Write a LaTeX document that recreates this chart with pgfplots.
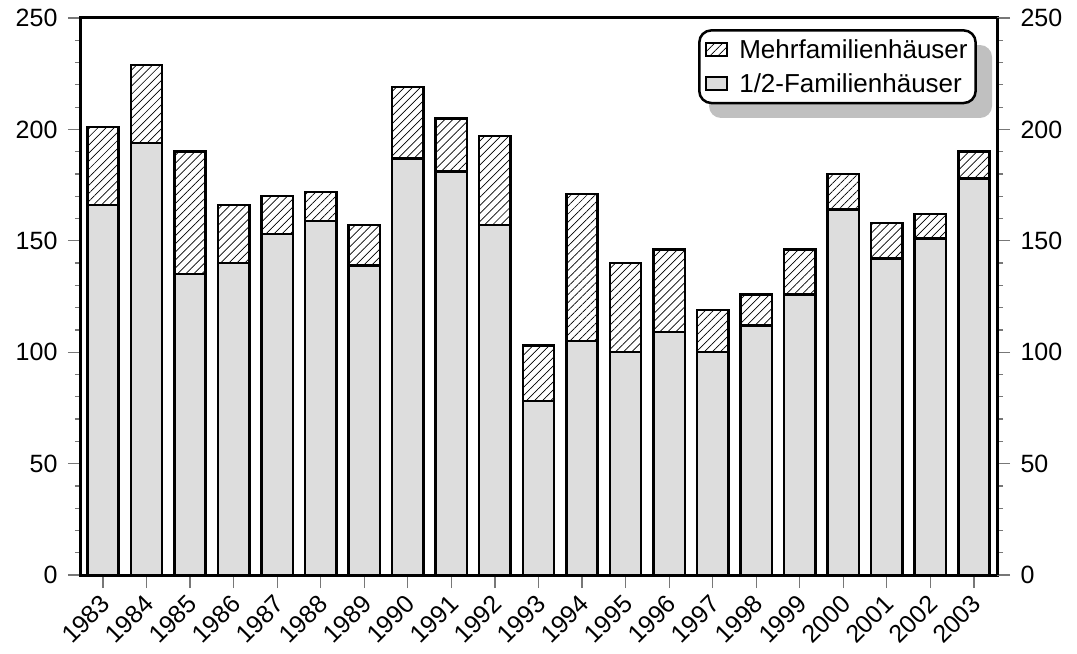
\documentclass[border=0pt]{standalone}
\usepackage{pgfplots}
\pgfplotsset{compat=1.18}
\usepackage{pgfplotstable}
\usepackage{fontspec}
\setmainfont{Liberation Sans}
\usetikzlibrary{patterns.meta}
\definecolor{barfill}{HTML}{DDDDDD}
\definecolor{shadowgray}{HTML}{C0C0C0}
\definecolor{tickgray}{HTML}{777777}

\pgfplotstableread{
x ein mehr
0 166 35
1 194 35
2 135 55
3 140 26
4 153 17
5 159 13
6 139 18
7 187 32
8 181 24
9 157 40
10 78 25
11 105 66
12 100 40
13 109 37
14 100 19
15 112 14
16 126 20
17 164 16
18 142 16
19 151 11
20 178 12
}\data

\newcommand{\tickfont}{\fontsize{25bp}{30bp}\selectfont}
\pgfplotsset{
  common/.style={
    width=916bp, height=557bp, scale only axis,
    xmin=-0.505, xmax=20.53, ymin=0, ymax=250,
    ytick={0,50,...,250}, minor y tick num=4,
    tick align=outside,
    major tick length=13bp, minor tick length=6bp,
    every tick/.style={tickgray, line width=1.2bp},
    /pgf/number format/assume math mode=true,
    axis line style={line width=3bp},
  }
}

\begin{document}
\begin{tikzpicture}
\begin{axis}[common,
  ybar stacked, bar width=0.72,
  xtick={0,...,20},
  xticklabels={1983,1984,1985,1986,1987,1988,1989,1990,1991,1992,1993,1994,1995,1996,1997,1998,1999,2000,2001,2002,2003},
  xtick pos=bottom, ytick pos=left,
  xticklabel style={font=\tickfont, xshift=5bp, yshift=-9bp, rotate=45, anchor=east},
  yticklabel style={font=\tickfont, xshift=-7bp},
  reverse legend,
  legend cell align=left,
  legend style={at={(0.978,0.980)}, anchor=north east,
    rounded corners=12bp, line width=2.5bp, draw=black, fill=white,
    font=\fontsize{26bp}{30bp}\selectfont,
    row sep=10bp, column sep=9bp, inner xsep=6bp, inner ysep=7bp},
  legend image code/.code={\draw[#1, sharp corners, line width=2bp] (0bp,-6.5bp) rectangle (21bp,6.5bp);},
]
\fill[shadowgray, rounded corners=12bp] (axis description cs:0.6856,0.8205) rectangle (axis description cs:0.9945,0.9515);
\addplot[draw=black, line width=2.5bp, fill=barfill] table[x=x,y=ein]{\data};
\addlegendentry{1/2-Familienhäuser}
\addplot[draw=black, line width=2.5bp, pattern={Lines[angle=45,distance=5.7bp,line width=0.7bp]}] table[x=x,y=mehr]{\data};
\addlegendentry{Mehrfamilienhäuser}
\coordinate (bl) at (rel axis cs:-0.0884,-0.140);
\coordinate (tr) at (rel axis cs:1.0873,1.0323);
\end{axis}
\begin{axis}[common,
  hide x axis, axis y line*=right,
  yticklabel style={font=\tickfont, xshift=7bp},
]
\end{axis}
\pgfresetboundingbox
\path (bl) rectangle (tr);
\end{tikzpicture}
\end{document}
